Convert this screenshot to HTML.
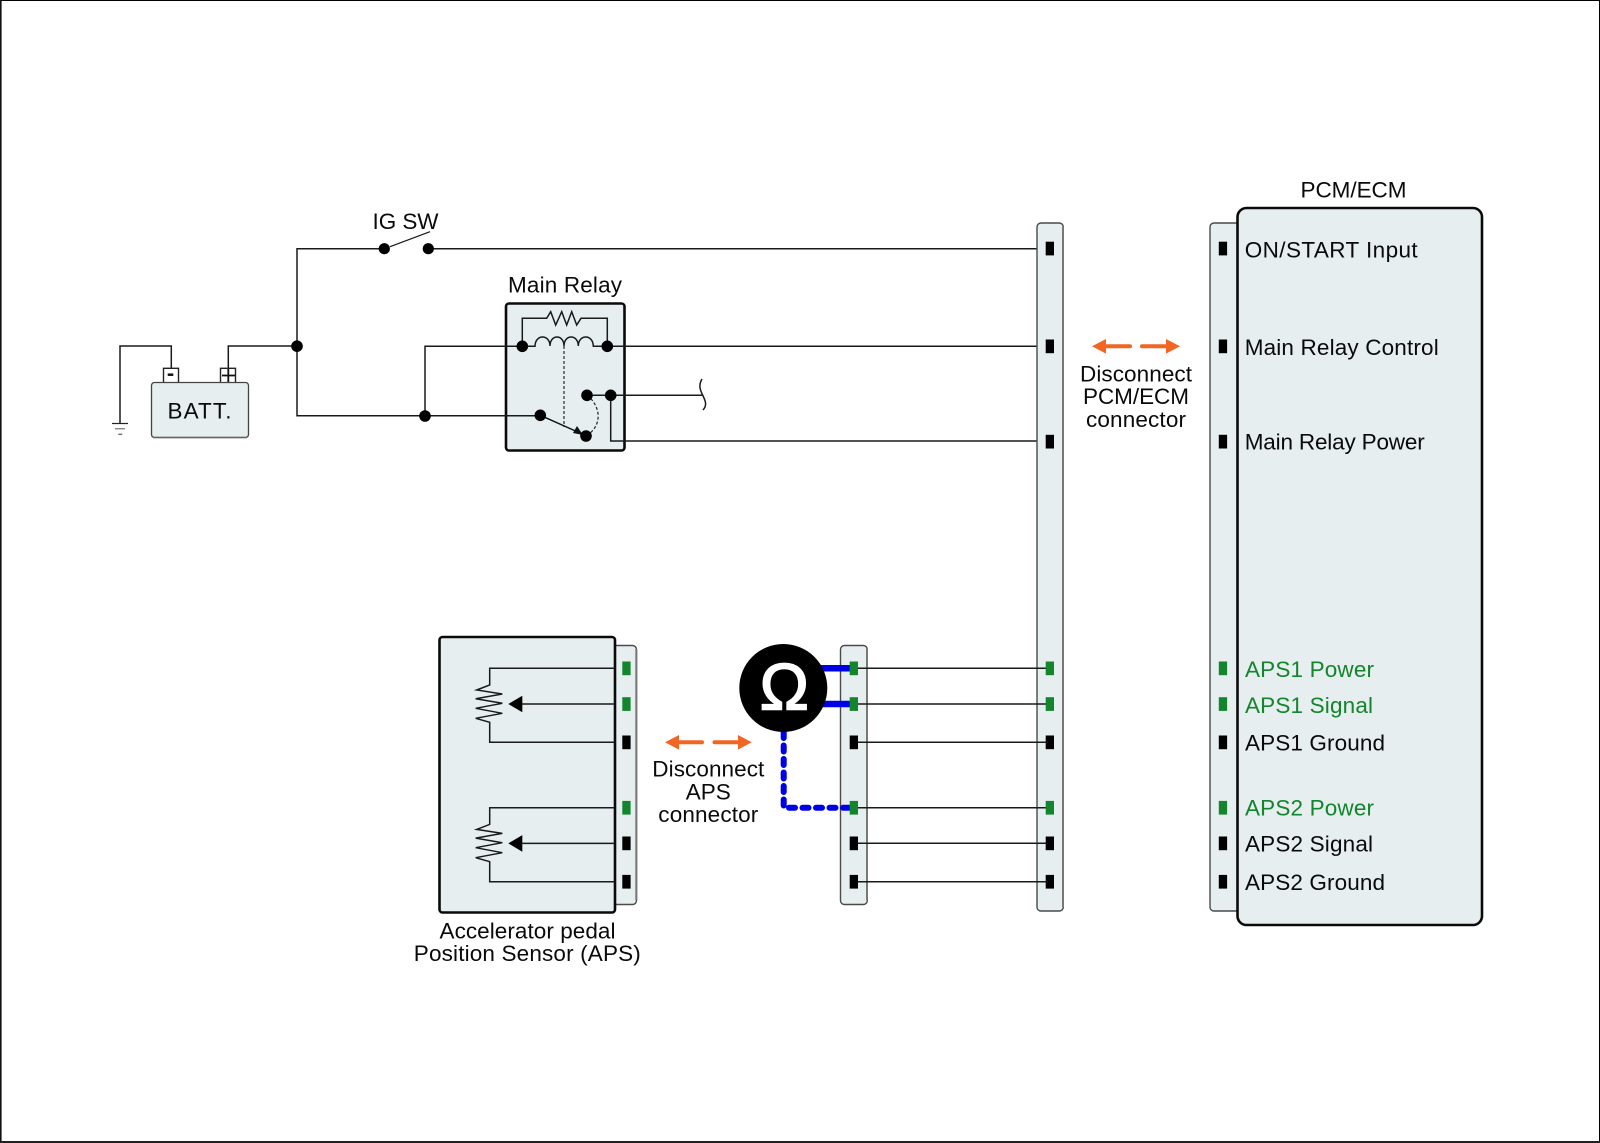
<!DOCTYPE html>
<html><head><meta charset="utf-8"><style>
html,body{margin:0;padding:0;background:#fff}
svg{display:block}
text{font-family:"Liberation Sans",sans-serif;font-size:22.5px;fill:#0a0a0a}
.w{fill:none;stroke:#1a1a1a;stroke-width:1.5}
.s{fill:#e6eeef;stroke:#4a4a4a;stroke-width:1.4}
.e{fill:none;stroke:#777;stroke-width:2}
.b{fill:#e6eeef;stroke:#0a0a0a;stroke-width:2.6}
.g{fill:#13852c}
.m{text-anchor:middle}
</style></head><body>
<svg width="1600" height="1143" viewBox="0 0 1600 1143" xmlns="http://www.w3.org/2000/svg">
<rect width="1600" height="1143" fill="#fff"/>
<path d="M0.5 0.5H1599.5V1143" fill="none" stroke="#000" stroke-width="1"/>
<rect x="0" y="0" width="1.600" height="1143" fill="#111"/>
<rect x="0" y="1141" width="1600" height="2" fill="#222"/>

<!-- Battery -->
<rect x="163.500" y="368.300" width="15" height="14.500" fill="#fff" stroke="#222" stroke-width="1.400"/>
<rect x="220.500" y="368.300" width="15" height="14.500" fill="#fff" stroke="#222" stroke-width="1.400"/>
<path d="M167.700 374.700h5.600" stroke="#111" stroke-width="2.500"/>
<path d="M222 375.500h13M228.300 369v13" stroke="#111" stroke-width="1.800"/>
<rect x="151.500" y="382.500" width="97" height="55" rx="3" fill="#e6eeef" stroke="#444" stroke-width="1.300"/>
<path d="M153 437.500H247" stroke="#666" stroke-width="1.600"/>
<text x="167.500" y="418.300" textLength="64" lengthAdjust="spacing">BATT.</text>
<path class="w" d="M171.300 368V346H120V423.300"/>
<path d="M112 423.500h16" stroke="#222" stroke-width="1.200"/>
<path d="M115 428.700h10" stroke="#888" stroke-width="1.400"/>
<path d="M118.300 434.300h4" stroke="#555" stroke-width="1.200"/>
<path class="w" d="M228.300 368V346H297"/>
<path d="M390 246.700L430 231.700" stroke="#1a1a1a" stroke-width="1.300"/>
<text x="372.500" y="229" textLength="66" lengthAdjust="spacing">IG SW</text>

<!-- Main Relay -->
<rect class="b" x="506" y="303.500" width="118.500" height="147" rx="3"/>
<path class="w" d="M384 248.700H297V415.700H540"/>
<path class="w" d="M425 415.700V346.300H522"/>
<text x="508" y="292.300" textLength="114" lengthAdjust="spacing">Main Relay</text>
<path class="w" d="M522.300 346.300V318.300H546.700L550.700 311.700L555.700 325L561.700 311.700L566.700 325L571.700 311.700L576.700 325L581 318.300H607.300V346.300"/>
<path class="w" d="M522 346.300H535C535 334 550 334 550 346C550 334 564 334 564 346C564 334 578.300 334 578.300 346C578.300 334 593.300 334 593.300 346.300H607"/>
<path d="M564 346V427" stroke="#444" stroke-width="1.400" stroke-dasharray="3 2" fill="none"/>
<path d="M587 395.300C600 405 604 425 586 436" stroke="#222" stroke-width="1.200" stroke-dasharray="3 2" fill="none"/>
<path d="M540.300 415.300L580 433" stroke="#111" stroke-width="1.400"/>
<path d="M583 435L573 433L577 426Z" fill="#111"/>
<path class="w" d="M587 395.300H703"/>
<path class="w" d="M702 379C694 392 712 400 703 410"/>
<path class="w" d="M610.700 395.300V441H1046"/>
<path class="w" d="M607 346.300H1046"/>
<path class="w" d="M428 248.700H1046"/>

<g fill="#000">
<circle cx="384.300" cy="248.700" r="5.600"/><circle cx="428.300" cy="248.700" r="5.600"/>
<circle cx="297" cy="346.200" r="5.800"/><circle cx="425" cy="416" r="5.800"/>
<circle cx="522.300" cy="346.300" r="5.800"/><circle cx="607.300" cy="346.300" r="5.800"/>
<circle cx="587" cy="395.300" r="5.800"/><circle cx="610.700" cy="395.300" r="5.800"/>
<circle cx="540.300" cy="415.300" r="5.800"/><circle cx="586" cy="436" r="5.800"/>
</g>

<!-- Long connector strip -->
<rect class="s" x="1037" y="223" width="26.300" height="688" rx="4"/>
<path class="e" d="M1063 227V907"/>
<!-- PCM strip + box -->
<rect class="s" x="1210" y="223" width="40" height="688" rx="4"/>
<rect class="b" x="1237.500" y="208" width="244.500" height="717" rx="9"/>
<text class="m" x="1353.500" y="197.300" textLength="106" lengthAdjust="spacing">PCM/ECM</text>
<text x="1244.700" y="257.300" textLength="173" lengthAdjust="spacing">ON/START Input</text>
<text x="1244.700" y="355" textLength="194" lengthAdjust="spacing">Main Relay Control</text>
<text x="1244.700" y="449.400" textLength="180" lengthAdjust="spacing">Main Relay Power</text>
<text x="1245" y="676.800" textLength="129" lengthAdjust="spacing" style="fill:#13852c">APS1 Power</text>
<text x="1245" y="712.800" textLength="128" lengthAdjust="spacing" style="fill:#13852c">APS1 Signal</text>
<text x="1245" y="750.300" textLength="140" lengthAdjust="spacing">APS1 Ground</text>
<text x="1245" y="815.300" textLength="129" lengthAdjust="spacing" style="fill:#13852c">APS2 Power</text>
<text x="1245" y="851.700" textLength="128" lengthAdjust="spacing">APS2 Signal</text>
<text x="1245" y="890" textLength="140" lengthAdjust="spacing">APS2 Ground</text>

<!-- Disconnect PCM -->
<g fill="#f26522">
<path d="M1092 346.300L1106 339V344.300H1130a2 2 0 0 1 0 4H1106V353.600Z"/>
<path d="M1180 346.300L1166 339V344.300H1142a2 2 0 0 0 0 4H1166V353.600Z"/>
<path d="M665 742.300L679 735V740.300H702a2 2 0 0 1 0 4H679V749.600Z"/>
<path d="M751.700 742.300L738 735V740.300H714.500a2 2 0 0 0 0 4H738V749.600Z"/>
</g>
<text class="m" x="1136" y="381.300" textLength="112" lengthAdjust="spacing">Disconnect</text>
<text class="m" x="1136" y="404" textLength="106" lengthAdjust="spacing">PCM/ECM</text>
<text class="m" x="1136" y="426.800" textLength="100" lengthAdjust="spacing">connector</text>
<text class="m" x="708.300" y="776.700" textLength="112" lengthAdjust="spacing">Disconnect</text>
<text class="m" x="708.300" y="799.300">APS</text>
<text class="m" x="708.300" y="822" textLength="100" lengthAdjust="spacing">connector</text>

<!-- APS sensor -->
<rect class="s" x="600" y="645.500" width="36.500" height="259" rx="4"/>
<path class="e" d="M636.300 649V900"/>
<rect class="b" x="439.500" y="637" width="175.500" height="275.500" rx="3"/>
<text class="m" x="527.500" y="938.300" textLength="176" lengthAdjust="spacing">Accelerator pedal</text>
<text class="m" x="527.300" y="961" textLength="227" lengthAdjust="spacing">Position Sensor (APS)</text>
<g id="pot">
<path class="w" d="M614.700 668.300H489.700V685L476.700 690L502.300 694L475.700 698.700L502.300 703.300L475.700 708.300L502.300 713.300L475.700 718.300L489.700 722.300V742.300H614.700"/>
<path class="w" d="M522 704H614.700"/>
<path d="M508.300 704L522.300 695.700V712.300Z" fill="#000"/>
</g>
<g transform="translate(0 139.400)">
<path class="w" d="M614.700 668.300H489.700V685L476.700 690L502.300 694L475.700 698.700L502.300 703.300L475.700 708.300L502.300 713.300L475.700 718.300L489.700 722.300V742.300H614.700"/>
<path class="w" d="M522 704H614.700"/>
<path d="M508.300 704L522.300 695.700V712.300Z" fill="#000"/>
</g>

<!-- Middle strip -->
<rect class="s" x="840.500" y="645.500" width="26.800" height="259" rx="4"/>
<path class="e" d="M867 649V900"/>
<g class="w">
<path d="M858 668.300H1046M858 704H1046M858 742.300H1046M858 807.700H1046M858 843.300H1046M858 881.700H1046"/>
</g>

<!-- Blue probes -->
<path d="M821 668.300H851M823 704H851" stroke="#0000e6" stroke-width="6.500" fill="none"/>
<path d="M783.700 732V807.700H851" stroke="#0000e6" stroke-width="6" fill="none" stroke-linecap="round" stroke-dasharray="6 7.500"/>

<!-- Omega -->
<circle cx="783.300" cy="688" r="44" fill="#000"/>
<text x="784.300" y="709.300" class="m" style="font-size:66px;fill:#fff;stroke:#fff;stroke-width:1.600">Ω</text>

<!-- Pins -->
<g id="pins">
<rect x="622.300" y="661.500" width="8.300" height="13.700" class="g"/>
<rect x="622.300" y="697.200" width="8.300" height="13.700" class="g"/>
<rect x="622.300" y="735.500" width="8.300" height="13.700"/>
<rect x="622.300" y="800.900" width="8.300" height="13.700" class="g"/>
<rect x="622.300" y="836.500" width="8.300" height="13.700"/>
<rect x="622.300" y="874.900" width="8.300" height="13.700"/>

<rect x="849.700" y="661.500" width="8.300" height="13.700" class="g"/>
<rect x="849.700" y="697.200" width="8.300" height="13.700" class="g"/>
<rect x="849.700" y="735.500" width="8.300" height="13.700"/>
<rect x="849.700" y="800.900" width="8.300" height="13.700" class="g"/>
<rect x="849.700" y="836.500" width="8.300" height="13.700"/>
<rect x="849.700" y="874.900" width="8.300" height="13.700"/>

<rect x="1045.700" y="241.700" width="8.300" height="13.700"/>
<rect x="1045.700" y="339.500" width="8.300" height="13.700"/>
<rect x="1045.700" y="434.800" width="8.300" height="13.700"/>
<rect x="1045.700" y="661.500" width="8.300" height="13.700" class="g"/>
<rect x="1045.700" y="697.200" width="8.300" height="13.700" class="g"/>
<rect x="1045.700" y="735.500" width="8.300" height="13.700"/>
<rect x="1045.700" y="800.900" width="8.300" height="13.700" class="g"/>
<rect x="1045.700" y="836.500" width="8.300" height="13.700"/>
<rect x="1045.700" y="874.900" width="8.300" height="13.700"/>

<rect x="1218.800" y="241.700" width="8.300" height="13.700"/>
<rect x="1218.800" y="339.500" width="8.300" height="13.700"/>
<rect x="1218.800" y="434.800" width="8.300" height="13.700"/>
<rect x="1218.800" y="661.500" width="8.300" height="13.700" class="g"/>
<rect x="1218.800" y="697.200" width="8.300" height="13.700" class="g"/>
<rect x="1218.800" y="735.500" width="8.300" height="13.700"/>
<rect x="1218.800" y="800.900" width="8.300" height="13.700" class="g"/>
<rect x="1218.800" y="836.500" width="8.300" height="13.700"/>
<rect x="1218.800" y="874.900" width="8.300" height="13.700"/>
</g>
</svg>
</body></html>
